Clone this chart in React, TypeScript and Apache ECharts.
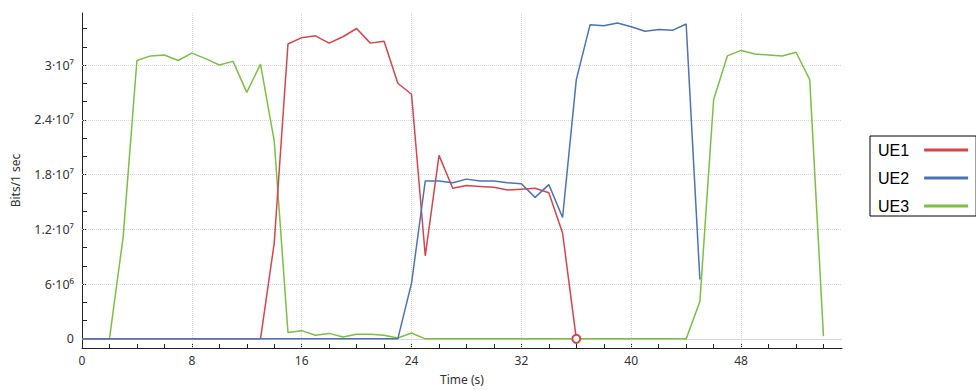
import React, { useEffect, useRef } from "react";
import * as echarts from "echarts";

// Time in seconds (one sample per second)
const TIME = [
  0, 1, 2, 3, 4, 5, 6, 7, 8, 9, 10, 11, 12, 13, 14, 15, 16, 17, 18, 19, 20,
  21, 22, 23, 24, 25, 26, 27, 28, 29, 30, 31, 32, 33, 34, 35, 36, 37, 38, 39,
  40, 41, 42, 43, 44, 45, 46, 47, 48, 49, 50, 51, 52, 53, 54,
];

// Throughput in bits per second (values in units of 1e7 for readability)
const UE1 = [
  0, 0, 0, 0, 0, 0, 0, 0, 0, 0, 0, 0, 0, 0, 1.05, 3.23, 3.3, 3.32, 3.24, 3.31,
  3.4, 3.24, 3.26, 2.8, 2.68, 0.91, 2.01, 1.65, 1.68, 1.67, 1.66, 1.63, 1.64,
  1.65, 1.6, 1.16, 0,
];
const UE2 = [
  0, 0, 0, 0, 0, 0, 0, 0, 0, 0, 0, 0, 0, 0, 0, 0, 0, 0, 0, 0, 0, 0, 0, 0, 0.61,
  1.73, 1.73, 1.71, 1.75, 1.73, 1.73, 1.71, 1.7, 1.55, 1.69, 1.33, 2.84, 3.44,
  3.43, 3.46, 3.42, 3.37, 3.39, 3.38, 3.45, 0.65,
];
const UE3 = [
  0, 0, 0, 1.12, 3.05, 3.1, 3.11, 3.05, 3.13, 3.07, 3.0, 3.04, 2.7, 3.01, 2.17,
  0.07, 0.09, 0.04, 0.06, 0.02, 0.05, 0.05, 0.04, 0.01, 0.065, 0, 0, 0, 0, 0, 0,
  0, 0, 0, 0, 0, 0, 0, 0, 0, 0, 0, 0, 0, 0, 0.41, 2.62, 3.1, 3.16, 3.12, 3.11,
  3.1, 3.14, 2.84, 0.03,
];
const SCALE = 1e7;

const SERIES_NAMES = ["UE1", "UE2", "UE3"];
const COLORS = ["#d9434b", "#4a73b8", "#7bc043"];

const X_TICK_VALUES = [
  0, 2, 4, 6, 8, 10, 12, 14, 16, 18, 20, 22, 24, 26, 28, 30, 32, 34, 36, 38, 40,
  42, 44, 46, 48, 50, 52, 54,
];
const X_LABEL_VALUES = [0, 8, 16, 24, 32, 40, 48];

const Y_TICK_VALUES = [
  0, 2e6, 4e6, 6e6, 8e6, 1e7, 1.2e7, 1.4e7, 1.6e7, 1.8e7, 2e7, 2.2e7, 2.4e7,
  2.6e7, 2.8e7, 3e7, 3.2e7, 3.4e7,
];
const Y_LABEL_VALUES = [0, 6e6, 1.2e7, 1.8e7, 2.4e7, 3e7];
const Y_TICK_LABELS = ["0", "6·10⁶", "1.2·10⁷", "1.8·10⁷", "2.4·10⁷", "3·10⁷"];

function toPairs(values: number[]) {
  return values.map((v, i) => [TIME[i], v * SCALE]);
}

export default function App() {
  const ref = useRef<HTMLDivElement>(null);

  useEffect(() => {
    if (!ref.current) return;
    const chart = echarts.init(ref.current, undefined, { renderer: "svg" });

    const axisFont = "'Noto Sans', 'Open Sans', sans-serif";
    const gridStyle = { color: "#d6d6d6", type: "dotted" as const, width: 1 };

    const ue1Data: any[] = toPairs(UE1);
    const last = ue1Data.length - 1;
    ue1Data[last] = {
      value: ue1Data[last],
      symbol: "emptyCircle",
      symbolSize: 8,
      itemStyle: { color: COLORS[0], borderColor: COLORS[0], borderWidth: 2 },
    };

    const option: any = {
      animation: false,
      backgroundColor: "#ffffff",
      grid: { left: 82, right: 134, top: 13, bottom: 39, containLabel: false },
      legend: {
        data: SERIES_NAMES,
        orient: "vertical",
        align: "right",
        left: 870,
        top: 136,
        icon: "rect",
        itemWidth: 44,
        itemHeight: 3,
        itemGap: 10,
        padding: [5, 8, 1, 8],
        borderColor: "#000000",
        borderWidth: 1,
        borderRadius: 0,
        textStyle: {
          fontFamily: "'Liberation Sans', Arial, sans-serif",
          fontSize: 16,
          color: "#000000",
          lineHeight: 18,
          padding: [0, 10, 0, 0],
        },
      },
      xAxis: {
        type: "value",
        min: 0,
        max: 55.35,
        name: "Time (s)",
        nameLocation: "middle",
        nameGap: 25,
        nameTextStyle: { fontFamily: axisFont, fontSize: 12, color: "#333" },
        axisLine: { show: true, onZero: false, lineStyle: { color: "#222", width: 1 } },
        axisTick: {
          show: true,
          inside: true,
          length: 4,
          customValues: X_TICK_VALUES,
          lineStyle: { color: "#222" },
        },
        axisLabel: {
          customValues: X_LABEL_VALUES,
          fontFamily: axisFont,
          fontSize: 12,
          color: "#333",
          margin: 6,
          formatter: (v: number) => String(v),
        },
        splitLine: { show: false },
      },
      yAxis: {
        type: "value",
        min: -1e6,
        max: 3.57e7,
        name: "Bits/1 sec",
        nameLocation: "middle",
        nameRotate: 90,
        nameGap: 61,
        nameTextStyle: { fontFamily: axisFont, fontSize: 12, color: "#333" },
        axisLine: { show: true, onZero: false, lineStyle: { color: "#222", width: 1 } },
        axisTick: {
          show: true,
          inside: true,
          length: 5,
          customValues: Y_TICK_VALUES,
          lineStyle: { color: "#222" },
        },
        axisLabel: {
          customValues: Y_LABEL_VALUES,
          fontFamily: axisFont,
          fontSize: 12.5,
          color: "#333",
          margin: 8,
          formatter: (v: number) => {
            const i = Y_LABEL_VALUES.findIndex((x) => Math.abs(x - v) < 1);
            return i >= 0 ? Y_TICK_LABELS[i] : "";
          },
        },
        splitLine: { show: false },
      },
      series: [
        {
          name: "GRID",
          type: "line",
          data: [],
          silent: true,
          z: 1,
          markLine: {
            silent: true,
            symbol: "none",
            z: 1,
            label: { show: false },
            lineStyle: gridStyle,
            emphasis: { disabled: true },
            data: [
              ...X_LABEL_VALUES.filter((v) => v > 0).map((v) => ({ xAxis: v })),
              ...Y_LABEL_VALUES.filter((v) => v > 0).map((v) => ({ yAxis: v })),
              { yAxis: 0, lineStyle: { color: "#d8d8d8", type: "solid", width: 1 } },
            ],
          },
        },
        {
          name: "UE3",
          type: "line",
          data: toPairs(UE3),
          symbol: "none",
          color: COLORS[2],
          lineStyle: { width: 1.5, color: COLORS[2] },
          z: 3,
        },
        {
          name: "UE1",
          type: "line",
          data: ue1Data,
          symbol: "none",
          color: COLORS[0],
          lineStyle: { width: 1.5, color: COLORS[0] },
          z: 3,
        },
        {
          name: "UE2",
          type: "line",
          data: toPairs(UE2),
          symbol: "none",
          color: COLORS[1],
          lineStyle: { width: 1.5, color: COLORS[1] },
          z: 4,
        },
      ],
    };

    chart.setOption(option);
    return () => chart.dispose();
  }, []);

  return (
    <div
      ref={ref}
      style={{
        position: "fixed",
        left: 0,
        top: 0,
        width: 976,
        height: 390,
        background: "#ffffff",
      }}
    />
  );
}
